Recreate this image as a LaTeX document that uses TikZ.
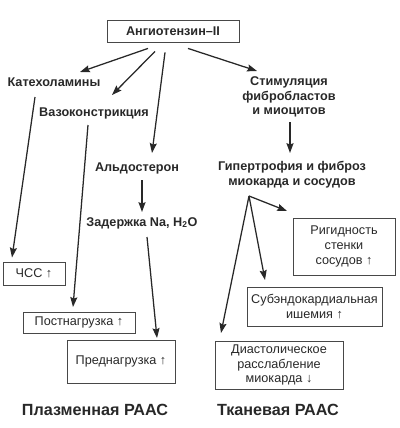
\documentclass[tikz,border=0pt]{standalone}
\usepackage{fontspec}
\setmainfont{Liberation Sans}
\usetikzlibrary{calc, arrows.meta}
\definecolor{ink}{RGB}{40,40,40}

\begin{document}
\begin{tikzpicture}[x=0.025cm, y=-0.025cm,
    lbl/.style={font=\fontsize{9}{10.5}\selectfont\bfseries, text=ink, align=center, inner sep=1pt},
    box/.style={draw=ink!85, line width=0.6pt, font=\fontsize{9}{10.5}\selectfont, text=ink, align=center, inner sep=1pt},
    ttl/.style={font=\fontsize{11.5}{13}\selectfont\bfseries, text=ink},
    arr/.style={-{Stealth[length=7pt,width=5pt,inset=1pt]}, draw=ink, line width=0.9pt}]
        \useasboundingbox (0,0) rectangle (400,428);
        \node[box, font=\fontsize{9}{10.5}\selectfont\bfseries, minimum width=3.3cm, minimum height=0.55cm] (ang) at (173,31) {Ангиотензин–II};
        \node[lbl] (kat) at (54,82) {Катехоламины};
        \node[lbl] (vaz) at (94,113) {Вазоконстрикция};
        \node[lbl] (stim) at (289,97) {Стимуляция\\фибробластов\\и миоцитов};
        \node[lbl] (ald) at (137,168) {Альдостерон};
        \node[lbl] (zad) at (142,223) {Задержка Na, H\textsubscript{2}O};
        \node[lbl] (gip) at (292,174.5) {Гипертрофия и фиброз\\миокарда и сосудов};
        \coordinate (br) at ($(gip)+(-43,21.5)$);
        \node[box, minimum width=1.55cm, minimum height=0.575cm] (chss) at (34,273.5) {ЧСС ↑};
        \node[box, minimum width=2.8cm, minimum height=0.525cm] (post) at (79,322.5) {Постнагрузка ↑};
        \node[box, minimum width=2.7cm, minimum height=1.075cm] (pred) at (121,361.5) {Преднагрузка ↑};
        \node[box, minimum width=2.55cm, minimum height=1.425cm] (rig) at (344,246.5) {Ригидность\\стенки\\сосудов ↑};
        \node[box, minimum width=3.375cm, minimum height=0.975cm] (ish) at (314.5,306.5) {Субэндокардиальная\\ишемия ↑};
        \node[box, minimum width=3.2cm, minimum height=1.2cm] (dia) at (279,365) {Диастолическое\\расслабление\\миокарда ↓};
        \node[ttl] (pl) at (95,410) {Плазменная РААС};
        \node[ttl] (tk) at (278,410) {Тканевая РААС};
        \draw[arr] ($(ang.south)+(-25,6)$) -- ($(kat)+(26,-10)$);
        \draw[arr] ($(ang.south)+(-18,9)$) -- ($(vaz)+(18,-18)$);
        \draw[arr] ($(ang.south)+(-8,10)$) -- ($(ald)+(15,-15)$);
        \draw[arr] ($(ang.south)+(15,6)$) -- ($(stim)+(-32,-26)$);
        \draw[arr] ($(kat)+(-19,15)$) -- ($(chss)+(-22,-16)$);
        \draw[arr] ($(vaz)+(-6,12)$) -- ($(post)+(-6,-15.5)$);
        \draw[arr] ($(ald)+(5,12)$) -- ($(zad)+(0,-11)$);
        \draw[arr] ($(zad)+(5,14)$) -- ($(pred)+(36,-23.5)$);
        \draw[arr] ($(stim)+(1,25)$) -- ($(gip)+(-2,-21.5)$);
        \draw[arr] (br) -- ($(rig)+(-57,-35.5)$);
        \draw[arr] (br) -- ($(ish)+(-49.5,-26.5)$);
        \draw[arr] (br) -- ($(dia)+(-58,-32)$);
\end{tikzpicture}
\end{document}
